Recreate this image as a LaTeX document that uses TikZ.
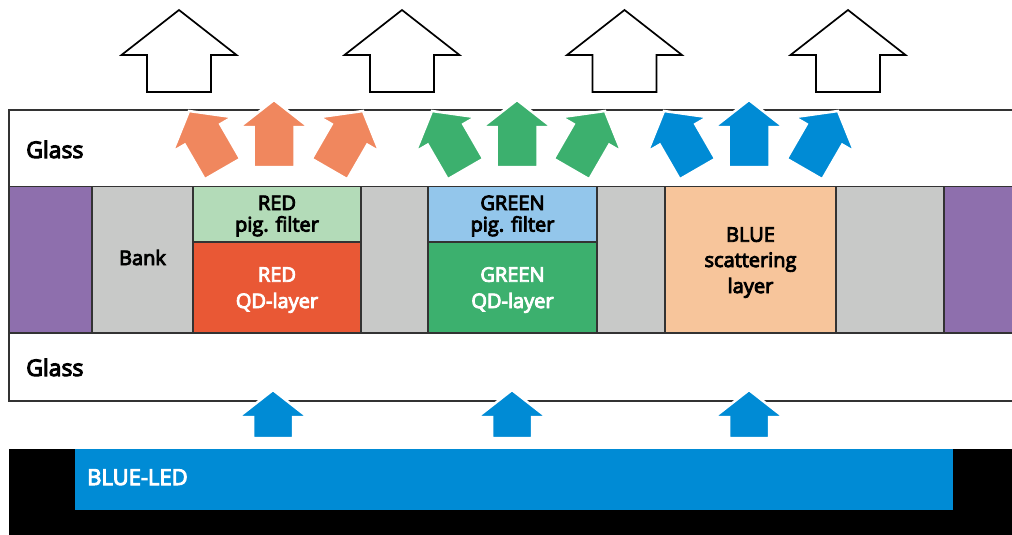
\documentclass[tikz,border=0pt]{standalone}
\usepackage{fontspec}
\setmainfont{Open Sans}
\newfontfamily\medfont{Open Sans}[FakeBold=4.5]
\definecolor{cpurple}{HTML}{8E6FAD}
\definecolor{cgray}{HTML}{C8C9C8}
\definecolor{cfiltg}{HTML}{B3DBB8}
\definecolor{cqdred}{HTML}{E95835}
\definecolor{cfiltb}{HTML}{93C6EB}
\definecolor{cqdgreen}{HTML}{3CB06E}
\definecolor{cpeach}{HTML}{F7C59B}
\definecolor{corange}{HTML}{F0875E}
\definecolor{cblue}{HTML}{008BD5}
\definecolor{cline}{HTML}{333333}
\newcommand\mkarrow[4]{%
  \filldraw[colarrow, fill=#4, shift={(#1,#2)}, rotate=#3]
    (0,0) -- (34.5,27) -- (20.5,27) -- (20.5,67) -- (-20.5,67) -- (-20.5,27) -- (-34.5,27) -- cycle;}
\newcommand\mkledarrow[2]{%
  \filldraw[colarrow, fill=cblue, shift={(#1,#2)}]
    (0,0) -- (34.5,27) -- (20,27) -- (20,48) -- (-20,48) -- (-20,27) -- (-34.5,27) -- cycle;}
\newcommand\mkoutline[2]{%
  \draw[outarrow, shift={(#1,#2)}]
    (0,0) -- (57.5,45) -- (32,45) -- (32,82) -- (-32,82) -- (-32,45) -- (-57.5,45) -- cycle;}
\begin{document}
\begin{tikzpicture}[x=1pt,y=-1pt,
  edge/.style={draw=cline, line width=1.3pt},
  cell/.style={draw=cline, line width=1.3pt},
  colarrow/.style={draw=white, line width=2.5pt, line join=miter},
  outarrow/.style={draw=black, line width=1.7pt, fill=white, line join=miter},
  lbl/.style={inner sep=0pt, anchor=base, font=\fontsize{20}{24}\selectfont\medfont},
  glbl/.style={inner sep=0pt, anchor=base west, font=\fontsize{23}{26}\selectfont\medfont},
  ]
\useasboundingbox (0,0) rectangle (1012,535);
% middle layer
\filldraw[cell, fill=cpurple] (9,186.5) rectangle (92,333);
\filldraw[cell, fill=cgray] (92,186.5) rectangle (193,333);
\filldraw[cell, fill=cfiltg] (193,186.5) rectangle (361,242);
\filldraw[cell, fill=cqdred] (193,242) rectangle (361,333);
\filldraw[cell, fill=cgray] (361,186.5) rectangle (428,333);
\filldraw[cell, fill=cfiltb] (428,186.5) rectangle (597,242);
\filldraw[cell, fill=cqdgreen] (428,242) rectangle (597,333);
\filldraw[cell, fill=cgray] (597,186.5) rectangle (665,333);
\filldraw[cell, fill=cpeach] (665,186.5) rectangle (836,333);
\filldraw[cell, fill=cgray] (836,186.5) rectangle (944,333);
\filldraw[cell, fill=cpurple] (944,186.5) rectangle (1016,333);
% glass
\draw[edge] (9,186) -- (9,110) -- (1016,110);
\draw[edge] (9,333) -- (9,401) -- (1016,401);
% LED
\fill[black] (9,449) rectangle (1016,537);
\fill[cblue] (75,449) rectangle (953,510);
% outline arrows
\mkoutline{179}{10}
\mkoutline{402}{10}
\mkoutline{624.5}{10}
\mkoutline{848}{10}
% coloured arrows
\mkarrow{274}{100}{0}{corange}
\mkarrow{189}{111}{30}{corange}
\mkarrow{363}{111}{-30}{corange}
\mkarrow{517}{100}{0}{cqdgreen}
\mkarrow{432}{111}{30}{cqdgreen}
\mkarrow{605}{111}{-30}{cqdgreen}
\mkarrow{749}{100}{0}{cblue}
\mkarrow{664}{111}{30}{cblue}
\mkarrow{838}{111}{-30}{cblue}
% LED arrows
\mkledarrow{273}{390}
\mkledarrow{512}{390}
\mkledarrow{749}{390}
% labels
\node[glbl] (glasstop) at (26,158) {Glass};
\node[glbl] (glassbot) at (26,376) {Glass};
\node[lbl] (bank) at (142.5,265) {Bank};
\node[lbl] (rf1) at (277,210) {RED};
\node[lbl] (rf2) at (277,231.5) {pig. filter};
\node[lbl, text=white] (rq1) at (277,281.7) {RED};
\node[lbl, text=white] (rq2) at (277,308) {QD-layer};
\node[lbl] (gf1) at (512.5,210) {GREEN};
\node[lbl] (gf2) at (512.5,231.5) {pig. filter};
\node[lbl, text=white] (gq1) at (512.5,281.7) {GREEN};
\node[lbl, text=white] (gq2) at (512.5,308) {QD-layer};
\node[lbl] (bs1) at (750.5,241.7) {BLUE};
\node[lbl] (bs2) at (750.5,267) {scattering};
\node[lbl] (bs3) at (750.5,293) {layer};
\node[glbl, text=white, font=\fontsize{22}{26}\selectfont\medfont] (led) at (87,485) {BLUE-LED};
\end{tikzpicture}
\end{document}
